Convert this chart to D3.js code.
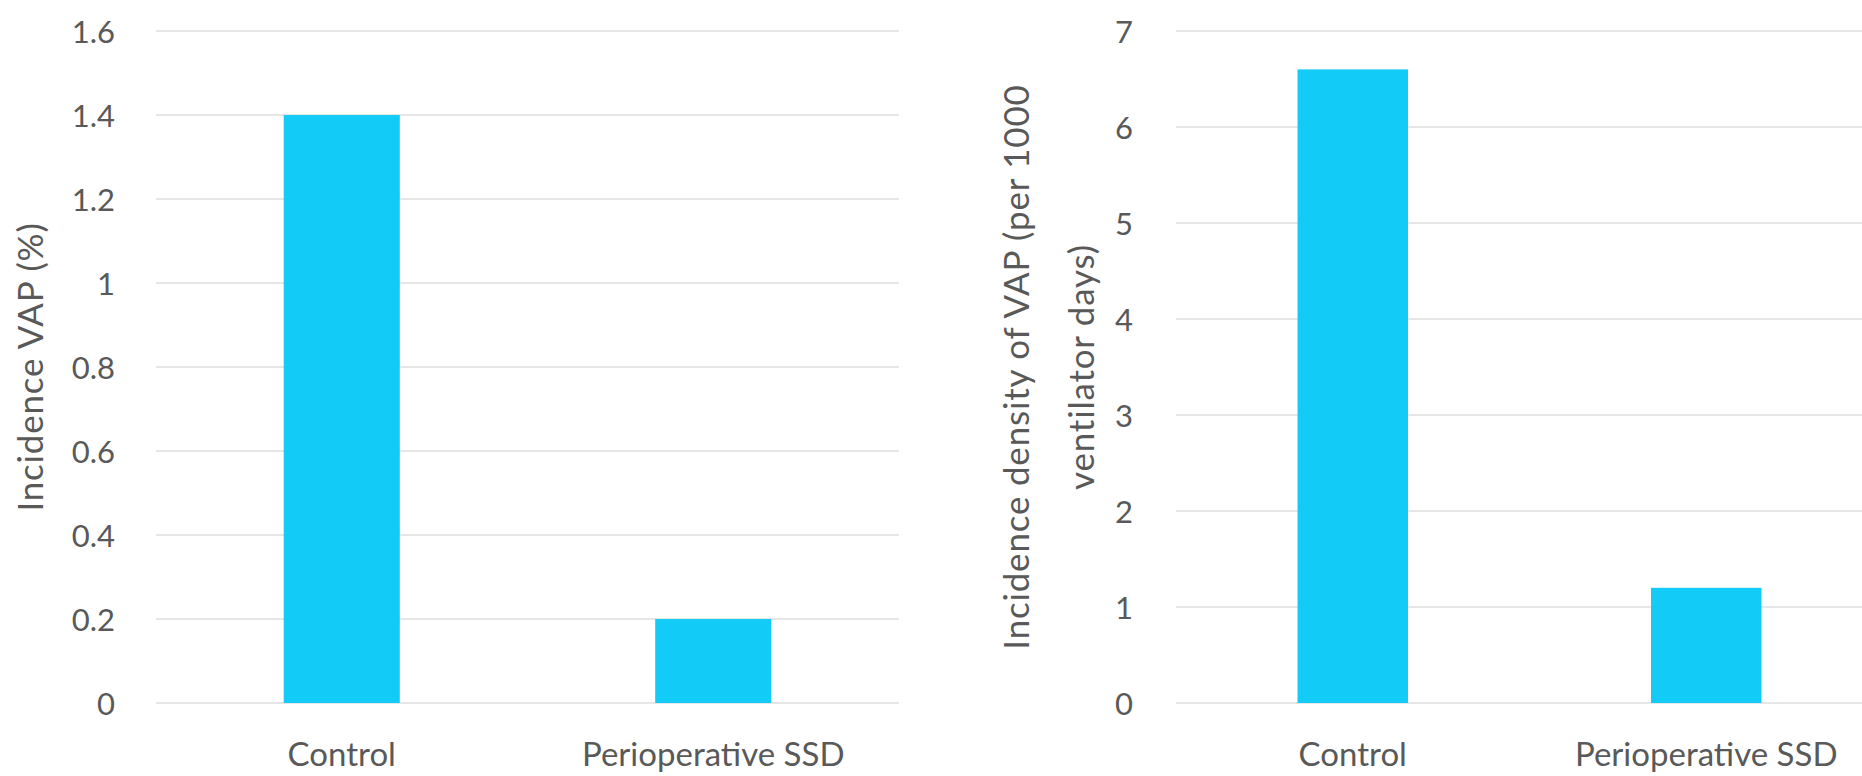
<!DOCTYPE html>
<html>
<head>
<meta charset="utf-8">
<script src="https://cdn.jsdelivr.net/npm/d3@7"></script>
<style>
  html, body { margin: 0; padding: 0; background: #ffffff; }
  svg { display: block; }
  text { font-family: Lato, "Open Sans", sans-serif; fill: #595959; }
</style>
</head>
<body>
<svg id="chart" width="1862" height="776"></svg>
<script>
// Categories shared by both panels
const categories = ["Control", "Perioperative SSD"];

// Left panel: incidence of VAP (%)
const incidencePct = [1.4, 0.2];
const leftTicks = [0, 0.2, 0.4, 0.6, 0.8, 1, 1.2, 1.4, 1.6];
const leftTitle = ["Incidence VAP (%)"];

// Right panel: incidence density of VAP per 1000 ventilator days
const incidenceDensity = [6.6, 1.2];
const rightTicks = [0, 1, 2, 3, 4, 5, 6, 7];
const rightTitle = ["Incidence density of VAP (per 1000", "ventilator days)"];

const svg = d3.select("#chart");
const BAR_COLOR = "#12cbf6";
const GRID_COLOR = "#dedede";
const TICK_FONT = 31;
const CAT_FONT = 33;
const TITLE_FONT = 35;

function panel(cfg) {
  const g = svg.append("g");
  const y = d3.scaleLinear().domain([0, cfg.max]).range([cfg.bottom, cfg.top]);
  const x = d3.scaleBand()
    .domain(categories)
    .range([cfg.left, cfg.right])
    .paddingInner(0.6875)
    .paddingOuter(0.34375);

  // gridlines
  g.append("g").selectAll("line")
    .data(cfg.ticks)
    .join("line")
    .attr("x1", cfg.left)
    .attr("x2", cfg.right)
    .attr("y1", d => y(d))
    .attr("y2", d => y(d))
    .attr("stroke", GRID_COLOR)
    .attr("stroke-width", 1.6);

  // value axis labels
  const yAxis = d3.axisLeft(y).tickValues(cfg.ticks).tickSize(0).tickPadding(0)
    .tickFormat(d3.format("~g"));
  const ya = g.append("g")
    .attr("transform", `translate(${cfg.tickRight},0)`)
    .call(yAxis);
  ya.select(".domain").remove();
  ya.selectAll("text")
    .style("font-family", "Lato, sans-serif")
    .style("font-size", TICK_FONT + "px")
    .attr("fill", "#595959")
    .attr("dy", "0.36em");

  // bars
  g.append("g").selectAll("rect")
    .data(cfg.values.map((v, i) => ({ cat: categories[i], v })))
    .join("rect")
    .attr("x", d => x(d.cat))
    .attr("width", x.bandwidth())
    .attr("y", d => y(d.v))
    .attr("height", d => y(0) - y(d.v))
    .attr("fill", BAR_COLOR);

  // category labels
  const xAxis = d3.axisBottom(x).tickSize(0).tickPadding(0);
  const xa = g.append("g")
    .attr("transform", `translate(0,${cfg.catBaseline})`)
    .call(xAxis);
  xa.select(".domain").remove();
  xa.selectAll("text")
    .style("font-family", "Lato, sans-serif")
    .style("font-size", CAT_FONT + "px")
    .attr("fill", "#595959")
    .attr("y", 0)
    .attr("dy", 0);

  // rotated value-axis title, one text per line
  const cy = (cfg.top + cfg.bottom) / 2;
  cfg.title.forEach((line, i) => {
    g.append("text")
      .attr("transform", `translate(${cfg.titleX[i]},${cy}) rotate(-90)`)
      .attr("text-anchor", "middle")
      .style("font-size", TITLE_FONT + "px")
      .style("letter-spacing", "0.8px")
      .text(line);
  });
}

panel({
  values: incidencePct, ticks: leftTicks, max: 1.6, title: leftTitle,
  left: 156, right: 899, top: 31, bottom: 703,
  tickRight: 115, catBaseline: 766, titleX: [43]
});

panel({
  values: incidenceDensity, ticks: rightTicks, max: 7, title: rightTitle,
  left: 1176, right: 1883, top: 31, bottom: 703,
  tickRight: 1133, catBaseline: 766, titleX: [1029, 1094]
});
</script>
</body>
</html>
